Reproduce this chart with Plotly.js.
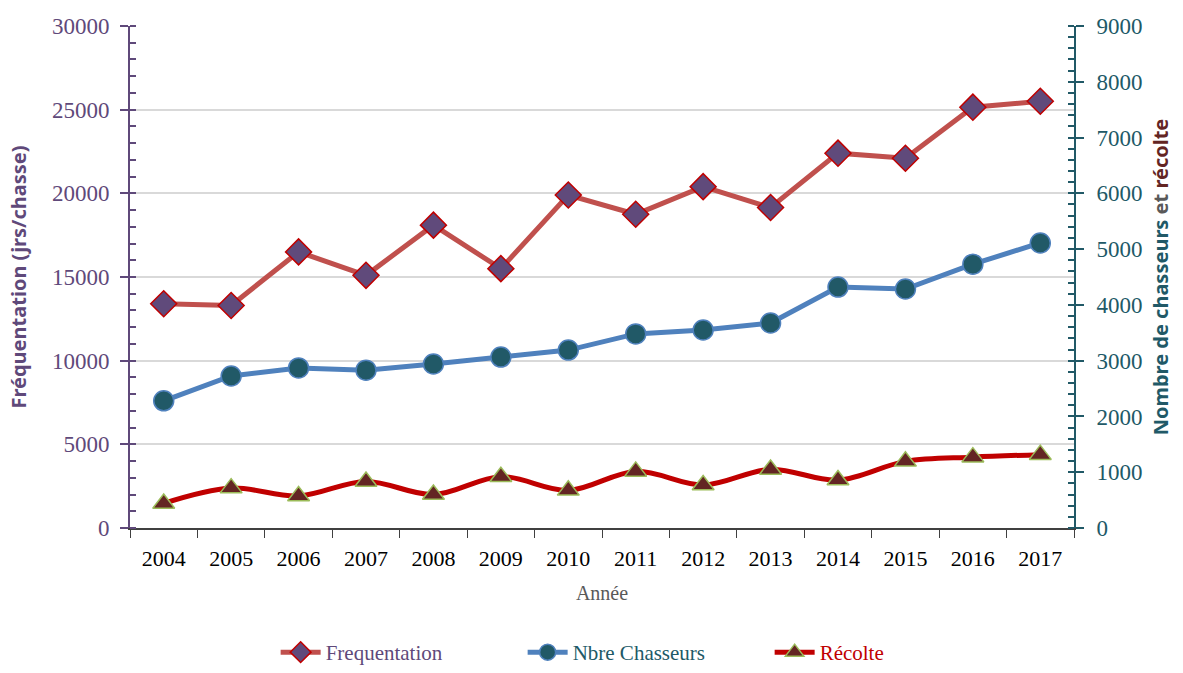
<!DOCTYPE html>
<html>
<head>
<meta charset="utf-8">
<script src="https://cdn.plot.ly/plotly-3.0.1.min.js"></script>
<style>
  body { margin: 0; background: #fff; }
  #chart { width: 1183px; height: 673px; }
</style>
</head>
<body>
<div id="chart"></div>
<script>
var years = ['2004', '2005', '2006', '2007', '2008', '2009', '2010',
             '2011', '2012', '2013', '2014', '2015', '2016', '2017'];
var frequentation = [13400, 13300, 16500, 15100, 18100, 15500, 19900,
                     18750, 20400, 19150, 22400, 22100, 25150, 25500];
var chasseurs = [2280, 2725, 2870, 2830, 2940, 3065, 3190,
                 3480, 3550, 3675, 4320, 4285, 4730, 5110];
var recolte = [440, 715, 575, 835, 600, 920, 675,
               1015, 770, 1050, 860, 1195, 1270, 1315];

var serif = 'Liberation Serif, Cambria, serif';
var sans = 'Noto Sans, Open Sans, sans-serif';

var trace1 = {
  x: years,
  y: frequentation,
  type: 'scatter',
  mode: 'lines+markers',
  name: '<span style="color:#5F497A">Frequentation</span>',
  line: {color: '#C0504D', width: 5},
  marker: {symbol: 'diamond', size: 20, color: '#604A7B', line: {color: '#C00000', width: 1.5}}
};
var trace2 = {
  x: years,
  y: chasseurs,
  yaxis: 'y2',
  type: 'scatter',
  mode: 'lines+markers',
  name: '<span style="color:#215967">Nbre Chasseurs</span>',
  line: {color: '#4F81BD', width: 5},
  marker: {symbol: 'circle', size: 20, color: '#215967', line: {color: '#4F81BD', width: 1.5}}
};
var trace3 = {
  x: years,
  y: recolte,
  yaxis: 'y2',
  type: 'scatter',
  mode: 'lines+markers',
  name: '<span style="color:#C00000">Récolte</span>',
  line: {color: '#C00000', width: 5, shape: 'spline', smoothing: 1},
  marker: {symbol: 'triangle-up', size: 19, color: '#632523', line: {color: '#9BBB59', width: 1.5}}
};

var layout = {
  width: 1183,
  height: 673,
  margin: {l: 130, r: 109, t: 26, b: 145},
  paper_bgcolor: '#fff',
  plot_bgcolor: '#fff',
  showlegend: true,
  legend: {
    orientation: 'h',
    xref: 'container',
    yref: 'container',
    x: 0.233, xanchor: 'left',
    y: 0, yanchor: 'bottom',
    font: {family: serif, size: 21},
    entrywidth: 192,
    itemwidth: 40
  },
  xaxis: {
    type: 'category',
    range: [-0.5, 13.5],
    tickson: 'boundaries',
    ticks: 'outside',
    ticklen: 8,
    tickcolor: '#404040',
    ticklabelstandoff: 10,
    showline: true,
    linecolor: '#404040',
    linewidth: 2,
    showgrid: false,
    tickfont: {family: serif, size: 22, color: '#000'},
    title: {text: 'Année', font: {family: serif, size: 20, color: '#595959'}, standoff: 16}
  },
  yaxis: {
    range: [0, 30000],
    dtick: 5000,
    tickformat: 'd',
    ticks: 'outside',
    ticklen: 8,
    tickcolor: '#5F497A',
    tickwidth: 2,
    ticklabelstandoff: 6,
    showline: true,
    linecolor: '#5F497A',
    linewidth: 2,
    gridcolor: '#D9D9D9',
    gridwidth: 1.5,
    zeroline: false,
    minor: {dtick: 1000, ticks: 'inside', ticklen: 6, tickcolor: '#5F497A', showgrid: false},
    tickfont: {family: serif, size: 23, color: '#5F497A'},
    title: {text: '<b>Fréquentation (jrs/chasse)</b>', font: {family: sans, size: 20, color: '#5F497A'}, standoff: 20}
  },
  yaxis2: {
    overlaying: 'y',
    side: 'right',
    range: [0, 9000],
    dtick: 1000,
    tickformat: 'd',
    ticks: 'outside',
    ticklen: 8,
    tickcolor: '#215967',
    tickwidth: 2,
    ticklabelstandoff: 8,
    showline: true,
    linecolor: '#215967',
    linewidth: 2,
    showgrid: false,
    zeroline: false,
    minor: {dtick: 200, ticks: 'inside', ticklen: 6, tickcolor: '#215967', showgrid: false},
    tickfont: {family: serif, size: 23, color: '#215967'},
    title: {
      text: '<b><span style="color:#215967">Nombre de chasseurs</span> <span style="color:#595959">et</span> <span style="color:#632523">récolte</span></b>',
      font: {family: sans, size: 20, color: '#215967'},
      standoff: 12
    }
  }
};

Plotly.newPlot('chart', [trace1, trace2, trace3], layout, {displayModeBar: false});
</script>
</body>
</html>
